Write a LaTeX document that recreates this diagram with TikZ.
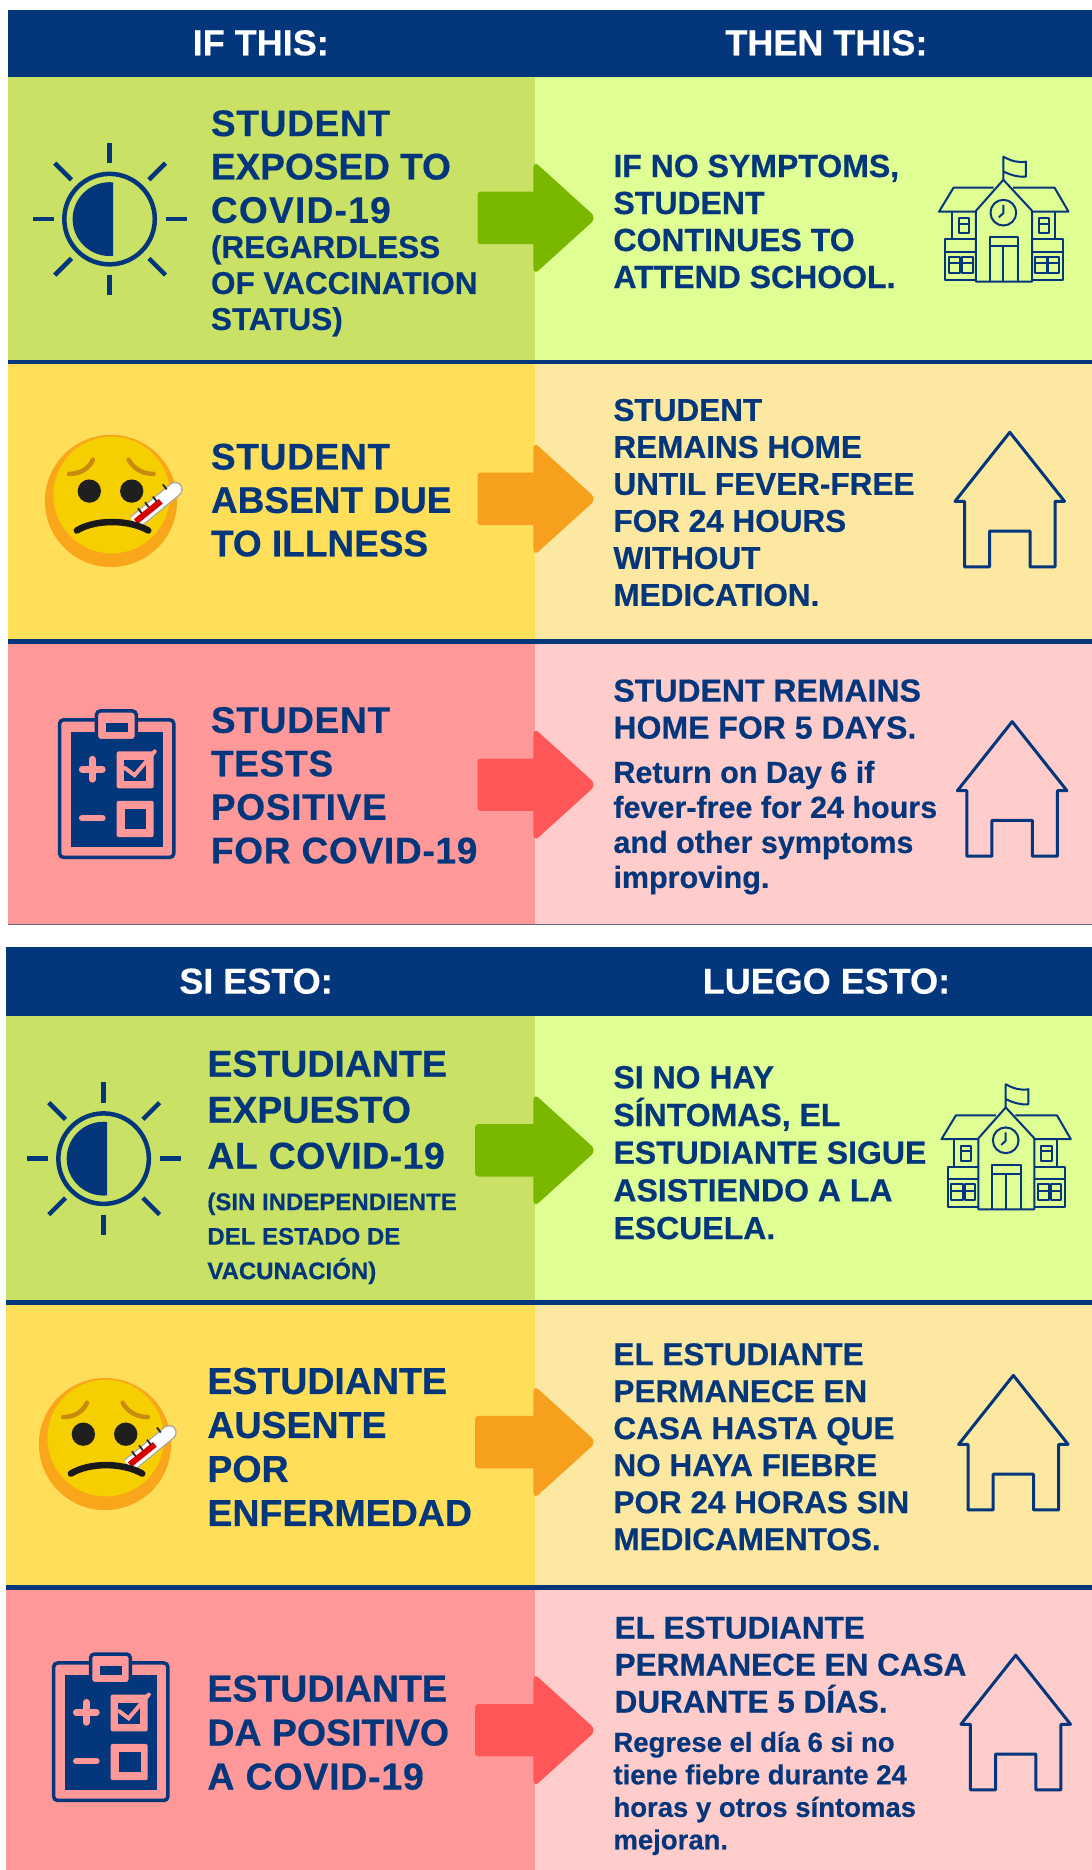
\documentclass[tikz,border=0pt]{standalone}
\usepackage{fontspec}
\setmainfont{Liberation Sans}[BoldFeatures={FakeBold=0.5}]
\newcommand{\spaced}[2]{{\addfontfeature{LetterSpace=#1}#2}}
\definecolor{navy}{HTML}{03367A}
\definecolor{gL}{HTML}{C9E265}
\definecolor{gR}{HTML}{DFFF94}
\definecolor{yL}{HTML}{FFDE59}
\definecolor{yR}{HTML}{FCE8A0}
\definecolor{rL}{HTML}{FF9999}
\definecolor{rR}{HTML}{FFCCCC}
\definecolor{gA}{HTML}{7AB800}
\definecolor{yA}{HTML}{F7A01E}
\definecolor{rA}{HTML}{FF5757}
\definecolor{emoO}{HTML}{F9A61A}
\definecolor{emoY}{HTML}{F6CF00}
\definecolor{brow}{HTML}{C98A10}
\tikzset{
  txt/.style 2 args={anchor=west,align=left,inner sep=0pt,text=navy,font=\fontsize{#1}{#2}\selectfont\bfseries},
  hdr/.style={inner sep=0pt,text=white,font=\fontsize{36}{40}\selectfont\bfseries},
  icon/.style={draw=navy,line width=3pt,fill=none,line join=round},
  fine/.style={draw=navy,line width=2pt,fill=none,line join=round},
  ray/.style={draw=navy,line width=4.5pt},
}
\newcommand{\sunicon}{%
  \draw[navy,line width=4.5pt] (92,184) circle (38);
  \begin{scope}\clip (40,100) rectangle (95,260);\fill[navy] (92,184) circle (31);\end{scope}
  \foreach \a/\b/\c/\d in {92/137/92/120,92/231/92/248,45/184/28/184,139/184/157/184,
     60/151/46/137,125/151/139/137,60/217/46/231,125/217/139/231}{\draw[ray] (\a,\b) -- (\c,\d);}
}
\newcommand{\emoicon}{%
  \fill[emoO] (93.2,420.7) circle (55.5);
  \fill[emoY] (93.8,415.7) circle (49);
  \fill[black!88] (75,412.4) circle (9.8) (110.6,412.4) circle (9.8);
  \draw[brow,line width=4.5pt,line cap=round] (58,398) .. controls (68,398) and (75,393) .. (78,386);
  \draw[brow,line width=4.5pt,line cap=round] (129,398) .. controls (119,398) and (112,393) .. (108,386);
  \draw[black!35,line width=15pt] (113,439) -- (147,411);
  \fill[black!35] (147,411) circle (6.4);
  \draw[white,line width=12.5pt] (113,439) -- (147,411);
  \fill[white] (147,411) circle (5.2);
  \draw[red!85!black,line width=6pt] (114,438) -- (135,421);
  \foreach \a/\b in {119/431,125/426,131.6/421.2,140/411}{\draw[black!85,line width=1.8pt] (\a,\b) -- ++(-3.2,-4.2);}
  \draw[black!90,line width=6.5pt,line cap=round] (64.5,445.5) .. controls (80,436) and (108,436) .. (124.5,445.5);
}
\newcommand{\clipicon}{%
  \draw[navy,line width=3.5pt,rounded corners=4pt] (50,604.5) rectangle (146,720);
  \fill[navy] (59.5,615) rectangle (137,711);
  \filldraw[fill=rL,draw=navy,line width=3.5pt,rounded corners=4pt] (81,597) rectangle (114.5,622);
  \fill[navy] (88.7,607) rectangle (107.7,614.5);
  \draw[rL,line width=6.5pt,line cap=round] (69,646) -- (86,646) (77.5,637.5) -- (77.5,654.5) (69,687) -- (86,687);
  \fill[rL,rounded corners=2pt] (98,631) rectangle (129,662);
  \fill[navy] (104.5,638) rectangle (122.5,656);
  \draw[rL,line width=4pt,line cap=round] (105,645) -- (113,651) -- (130,631);
  \fill[rL,rounded corners=2pt] (98,672.5) rectangle (129,703);
  \fill[navy] (104.8,679) rectangle (123,696);
}
\newcommand{\houseicon}[2]{%
  \draw[icon] (#1,#2) -- ++(46,58) -- ++(-8,0) -- ++(0,55) -- ++(-21,0) -- ++(0,-30) -- ++(-34,0) -- ++(0,30) -- ++(-21,0) -- ++(0,-55) -- ++(-8,0) -- cycle;
}
\newcommand{\schoolicon}{%
  \draw[fine] (842.6,151) -- (842.6,131.6) .. controls (849,135) and (855,137) .. (861.6,135.7) -- (861.6,148.3) .. controls (855,149) and (849,147) .. (842.6,144);
  \draw[fine] (819.6,236.5) -- (819.6,177) -- (842.6,151) -- (866.7,177) -- (866.7,236.5) -- cycle;
  \draw[fine] (834.4,157.6) -- (800.8,157.6) -- (788.6,177.7) -- (819.6,177.7);
  \draw[fine] (850.7,157.6) -- (885.6,157.6) -- (897.3,177.7) -- (866.7,177.7);
  \draw[fine] (799.4,177.7) -- (799.4,201) (886,177.7) -- (886,201);
  \draw[fine] (819.6,201) -- (794,201) -- (794,235) -- (819.6,235) (794,211.3) -- (819.6,211.3);
  \draw[fine] (866.7,201) -- (892.3,201) -- (892.3,235) -- (866.7,235) (866.7,211.3) -- (892.3,211.3);
  \draw[fine] (805.4,183.3) rectangle (813.8,196) (805.4,188) -- (813.8,188);
  \draw[fine] (872.5,183.3) rectangle (881.2,196) (872.5,188) -- (881.2,188);
  \draw[fine] (797,215.5) rectangle (806.6,229) (797,221) -- (806.6,221) (808,215.5) rectangle (817,229) (808,221) -- (817,221);
  \draw[fine] (869.5,215.5) rectangle (879,229) (869.5,221) -- (879,221) (880.4,215.5) rectangle (889.3,229) (880.4,221) -- (889.3,221);
  \draw[fine] (842.6,178.6) circle (10.8);
  \draw[fine] (842.6,172) -- (842.6,179) -- (838.8,182.5);
  \draw[fine] (831.4,236.5) -- (831.4,199.3) -- (855,199.3) -- (855,236.5) (831.4,207) -- (855,207) (842.6,207) -- (842.6,236.5);
}
\newcommand{\arrowshape}[3]{% colour, stem x, centre y
  \fill[#1,rounded corners=3pt] (#2,#3-22) rectangle (455,#3+22);
  \fill[#1,rounded corners=7pt] (448,#3-48) -- (501,#3) -- (448,#3+48) -- cycle;
}
\begin{document}
\begin{tikzpicture}[x=1.1908pt,y=-1.1908pt]
\useasboundingbox (0,0) rectangle (917,1570.4);
\fill[white] (0,0) rectangle (917,1570.4);
% top block
\fill[gL] (7,65) rectangle (449,302);
\fill[gR] (449,65) rectangle (917,302);
\fill[yL] (7,306) rectangle (449,537);
\fill[yR] (449,306) rectangle (917,537);
\fill[rL] (7,541) rectangle (449,776.5);
\fill[rR] (449,541) rectangle (917,776.5);
\fill[navy] (7,8) rectangle (917,65);
\fill[navy] (7,302) rectangle (917,306);
\fill[navy] (7,537) rectangle (917,541);
\fill[navy!55!rL] (7,776) rectangle (917,777);
% bottom block
\fill[gL] (5,853) rectangle (449,1092);
\fill[gR] (449,853) rectangle (917,1092);
\fill[yL] (5,1096) rectangle (449,1331);
\fill[yR] (449,1096) rectangle (917,1331);
\fill[rL] (5,1335) rectangle (449,1570.4);
\fill[rR] (449,1335) rectangle (917,1570.4);
\fill[navy] (5,795) rectangle (917,853);
\fill[navy] (5,1092) rectangle (917,1096);
\fill[navy] (5,1331) rectangle (917,1335);
% arrows
\arrowshape{gA}{401}{183}
\arrowshape{yA}{401}{419}
\arrowshape{rA}{401}{659}
\arrowshape{gA}{399}{966}
\arrowshape{yA}{399}{1211}
\arrowshape{rA}{399}{1453}
% icons
\sunicon
\emoicon
\clipicon
\schoolicon
\houseicon{848}{363}
\houseicon{850}{606}
\begin{scope}[shift={(-5,789)}]\sunicon\end{scope}
\begin{scope}[shift={(-5,792)}]\emoicon\clipicon\end{scope}
\begin{scope}[shift={(2,779)}]\schoolicon\end{scope}
\houseicon{851}{1155}
\houseicon{853}{1390}
% headers
\node[hdr] (h1) at (219,36) {IF THIS:};
\node[hdr] (h2) at (694,36) {THEN THIS:};
\node[hdr] (h3) at (215,824) {SI ESTO:};
\node[hdr] (h4) at (694,824) {LUEGO ESTO:};
% top texts
\node[txt={37}{43.4}] (a1) at (177,140) {\spaced{2}{STUDENT}\\EXPOSED TO\\\spaced{3.5}{COVID-19}};
\node[txt={31.5}{36}] (a1s) at (177,240) {(REGARDLESS\\OF VACCINATION\\STATUS)};
\node[txt={32}{37}] (b1) at (515,186) {IF NO SYMPTOMS,\\STUDENT\\CONTINUES TO\\ATTEND SCHOOL.};
\node[txt={37}{43.4}] (a2) at (177,420) {\spaced{2}{STUDENT}\\ABSENT DUE\\TO ILLNESS};
\node[txt={31.5}{37}] (b2) at (515,422) {STUDENT\\REMAINS HOME\\UNTIL FEVER-FREE\\FOR 24 HOURS\\WITHOUT\\MEDICATION.};
\node[txt={37}{43.5}] (a3) at (177,659.5) {\spaced{2}{STUDENT}\\\spaced{2}{TESTS}\\\spaced{2}{POSITIVE}\\\spaced{2}{FOR COVID-19}};
\node[txt={32}{37}] (b3) at (515,595.5) {STUDENT REMAINS\\HOME FOR 5 DAYS.};
\node[txt={30.5}{35}] (b3s) at (515,695) {Return on Day 6 if\\fever-free for 24 hours\\and other symptoms\\improving.};
% bottom texts
\node[txt={37.5}{46}] (c1) at (174,932) {ESTUDIANTE\\EXPUESTO\\\spaced{1.2}{AL COVID-19}};
\node[txt={24}{34.5}] (c1s) at (174,1040) {(SIN INDEPENDIENTE\\DEL ESTADO DE\\VACUNACIÓN)};
\node[txt={32}{37.7}] (d1) at (515,968) {SI NO HAY\\SÍNTOMAS, EL\\ESTUDIANTE SIGUE\\ASISTIENDO A LA\\ESCUELA.};
\node[txt={37.5}{44}] (c2) at (174,1215) {ESTUDIANTE\\AUSENTE\\POR\\ENFERMEDAD};
\node[txt={31.5}{37}] (d2) at (515,1215) {EL ESTUDIANTE\\PERMANECE EN\\CASA HASTA QUE\\NO HAYA FIEBRE\\POR 24 HORAS SIN\\MEDICAMENTOS.};
\node[txt={37.5}{44}] (c3) at (174,1455) {ESTUDIANTE\\DA POSITIVO\\\spaced{2}{A COVID-19}};
\node[txt={31.5}{37}] (d3) at (516,1398) {EL ESTUDIANTE\\PERMANECE EN CASA\\DURANTE 5 DÍAS.};
\node[txt={27.5}{32.5}] (d3s) at (515,1506) {Regrese el día 6 si no\\tiene fiebre durante 24\\horas y otros síntomas\\mejoran.};
\end{tikzpicture}
\end{document}
